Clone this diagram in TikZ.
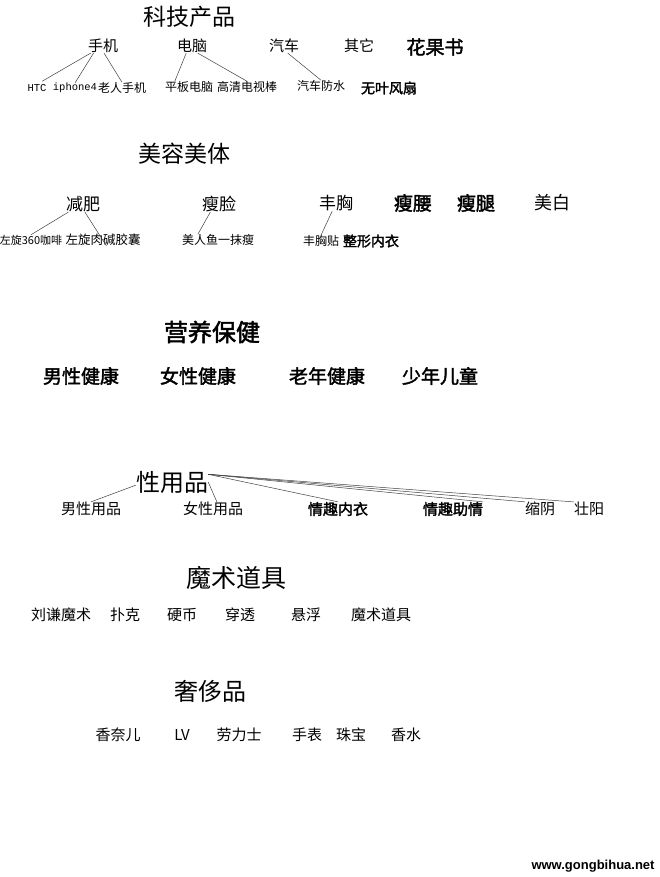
\documentclass[tikz,border=0pt]{standalone}
\usepackage{fontspec}
\setmainfont{Noto Sans CJK SC}
\setmonofont{Liberation Mono}
\newfontfamily\cjkbold[FakeBold=2]{Noto Sans CJK SC}
\newfontfamily\siteface{Liberation Sans}
\tikzset{
  topic/.style={font=\fontsize{23}{23}\selectfont},
  btopic/.style={font=\cjkbold\fontsize{24}{24}\selectfont},
  item/.style={font=\fontsize{15}{15}\selectfont},
  bigitem/.style={font=\fontsize{17}{17}\selectfont},
  bitem/.style={font=\cjkbold\fontsize{19}{19}\selectfont},
  leaf/.style={font=\fontsize{12}{12}\selectfont},
  bleaf/.style={font=\cjkbold\fontsize{14}{14}\selectfont},
  link/.style={black!75, line width=0.5pt},
}

\begin{document}
\begin{tikzpicture}[x=1pt, y=-1pt, every node/.style={inner sep=0pt}]

    \fill[white] (0,0) rectangle (660,877);
    \useasboundingbox (0,0) rectangle (660,877);

    % Tech products
    \node[topic] (KJ) at (189,17) {科技产品};
    \node[item] (SJ) at (103,46) {手机};
    \node[item] (DN) at (192,46) {电脑};
    \node[item] (QC) at (284,46) {汽车};
    \node[item] (QT) at (359,46) {其它};
    \node[bitem] (HGS) at (435,47) {花果书};

    \node[font=\ttfamily\fontsize{10.5}{10.5}\selectfont] (HTC) at (37,88) {HTC};
    \node[font=\ttfamily\fontsize{10.5}{10.5}\selectfont] (IPH) at (75,88) {iphone4};
    \node[leaf] (LRSJ) at (122,88) {老人手机};
    \node[leaf] (PBDN) at (189,87) {平板电脑};
    \node[leaf] (GQDS) at (247,87) {高清电视棒};
    \node[leaf] (QCFS) at (321,86) {汽车防水};
    \node[bleaf] (WYFS) at (389,88) {无叶风扇};

    \draw[link, shorten >=6pt] (SJ.210) -- (HTC.north);
    \draw[link] (SJ.217) -- (IPH.north);
    \draw[link] (SJ.278) -- (LRSJ.north);
    \draw[link] (DN.231) -- (PBDN.158);
    \draw[link] (DN.309) -- (GQDS.north);
    \draw[link] (QC.298) -- (QCFS.north);

    % Beauty
    \node[topic] (MRMT) at (184,154) {美容美体};
    \node[bigitem] (JF) at (83,204) {减肥};
    \node[bigitem] (SL) at (219,204) {瘦脸};
    \node[bigitem] (FX) at (336,203) {丰胸};
    \node[bitem] (SY) at (413,203) {瘦腰};
    \node[bitem] (ST) at (476,203) {瘦腿};
    \node[font=\fontsize{18}{18}\selectfont] (MB) at (552,203) {美白};

    \node[font=\fontsize{11}{11}\selectfont] (ZX) at (31,240) {左旋360咖啡};
    \node[font=\fontsize{12.5}{12.5}\selectfont] (ZXRJ) at (103,240) {左旋肉碱胶囊};
    \node[leaf] (MRY) at (218,240) {美人鱼一抹瘦};
    \node[leaf] (FXT) at (321,241) {丰胸贴};
    \node[bleaf] (ZXNY) at (371,241) {整形内衣};

    \draw[link] (JF.209) -- (ZX.north);
    \draw[link] (JF.283) -- (ZXRJ.300);
    \draw[link] (SL.223) -- (MRY.164);
    \draw[link] (FX.245) -- (FXT.north);

    % Health
    \node[btopic] (YYBJ) at (212,332) {营养保健};
    \node[bitem] (NXJK) at (81,376) {男性健康};
    \node[bitem] (NVJK) at (198,376) {女性健康};
    \node[bitem] (LNJK) at (327,376) {老年健康};
    \node[bitem] (SNET) at (440,376) {少年儿童};

    % Adult goods
    \node[font=\fontsize{24}{24}\selectfont] (XYP) at (172,482) {性用品};
    \node[item] (NXYP) at (91,509) {男性用品};
    \node[item] (NVYP) at (213,509) {女性用品};
    \node[font=\cjkbold\fontsize{15}{15}\selectfont] (QQNY) at (338,509) {情趣内衣};
    \node[font=\cjkbold\fontsize{15}{15}\selectfont] (QQZQ) at (453,509) {情趣助情};
    \node[item] (SYN) at (540,509) {缩阴};
    \node[item] (ZYA) at (589,509) {壮阳};

    \draw[link] (XYP.185) -- (NXYP.north);
    \draw[link] (XYP.east) -- (NVYP.62);
    \draw[link] (XYP.12) -- (QQNY.north);
    \draw[link] (XYP.12) -- (QQZQ.north east);
    \draw[link] (XYP.12) -- (SYN.north west);
    \draw[link] (XYP.12) -- (ZYA.north west);

    % Magic
    \node[font=\fontsize{25}{25}\selectfont] (MSDJ) at (236,578) {魔术道具};
    \node[item] (LQMS) at (61,615) {刘谦魔术};
    \node[item] (PK) at (125,615) {扑克};
    \node[item] (YB) at (182,615) {硬币};
    \node[item] (CT) at (240,615) {穿透};
    \node[item] (XF) at (306,615) {悬浮};
    \node[item] (MSDJ-2) at (381,615) {魔术道具};

    % Luxury
    \node[font=\fontsize{24}{24}\selectfont] (SCP) at (210,691) {奢侈品};
    \node[item] (XNE) at (118,735) {香奈儿};
    \node[item] (LV) at (182,735) {LV};
    \node[item] (LLS) at (239,735) {劳力士};
    \node[item] (SB) at (307,735) {手表};
    \node[item] (ZB) at (351,735) {珠宝};
    \node[item] (XS) at (406,735) {香水};

    \node[font=\siteface\bfseries\fontsize{13}{13}\selectfont] (site) at (593,866) {www.gongbihua.net};

\end{tikzpicture}
\end{document}
